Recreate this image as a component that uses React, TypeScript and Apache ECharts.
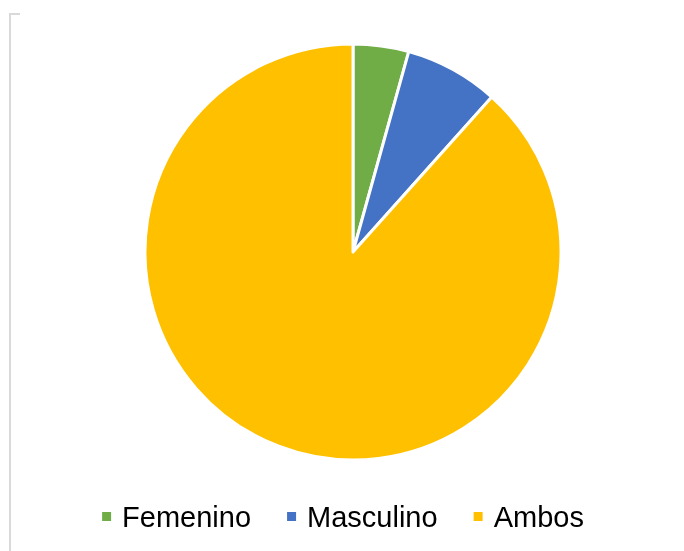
import React, { useEffect, useRef } from "react";
import * as echarts from "echarts";

const categories = ["Femenino", "Masculino", "Ambos"];
const values = [13, 22, 266];
const colors = ["#70AD47", "#4472C4", "#FFC000"];

export default function App() {
  const ref = useRef<HTMLDivElement>(null);
  useEffect(() => {
    const chart = echarts.init(ref.current!, undefined, { renderer: "svg" });
    chart.setOption({
      animation: false,
      color: colors,
      graphic: [
        { type: "line", shape: { x1: 10, y1: 14, x2: 10, y2: 551 }, style: { stroke: "#D9D9D9", lineWidth: 2 } },
        { type: "line", shape: { x1: 9, y1: 14, x2: 20, y2: 14 }, style: { stroke: "#D9D9D9", lineWidth: 2 } },
      ],
      legend: {
        data: categories,
        left: "center",
        top: 497,
        icon: "rect",
        itemWidth: 11,
        itemHeight: 11,
        itemGap: 34,
        textStyle: { fontFamily: "Liberation Sans, Arial", fontSize: 29, color: "#000", padding: [0, 0, 0, 5] },
      },
      series: [
        {
          type: "pie",
          center: [353, 252],
          radius: 208,
          startAngle: 90,
          clockwise: true,
          label: { show: false },
          labelLine: { show: false },
          itemStyle: { borderColor: "#fff", borderWidth: 3 },
          data: categories.map((c, i) => ({ name: c, value: values[i] })),
        },
      ],
    });
    return () => chart.dispose();
  }, []);
  return <div ref={ref} style={{ position: "fixed", left: 0, top: 0, width: 684, height: 551 }} />;
}
